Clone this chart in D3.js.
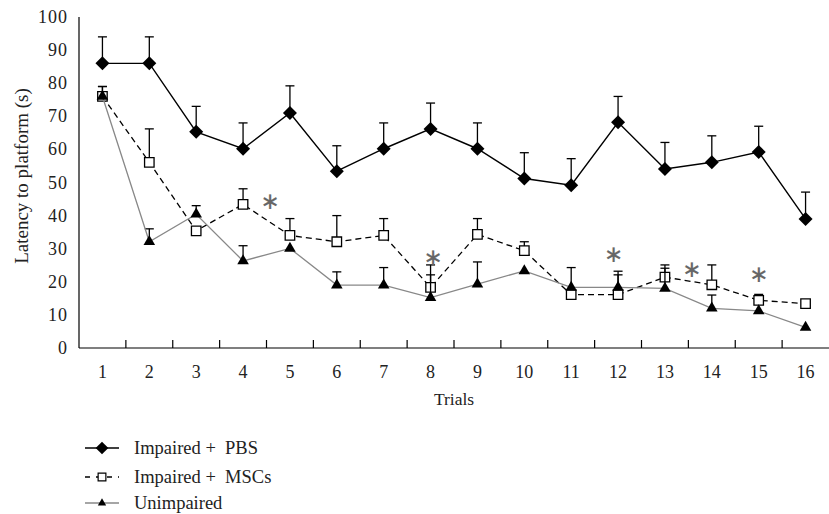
<!DOCTYPE html>
<html>
<head>
<meta charset="utf-8">
<script src="https://cdn.jsdelivr.net/npm/d3@7"></script>
<style>
  html, body { margin: 0; padding: 0; background: #fff; }
  text { font-family: "Liberation Serif", "DejaVu Serif", serif; fill: #222; white-space: pre; }
</style>
</head>
<body>
<div id="chart"></div>
<script>
// data
const trials = d3.range(1, 17);
const yTicks = [0, 10, 20, 30, 40, 50, 60, 70, 80, 90, 100];

const pbs    = [86, 86, 65.3, 60.2, 71, 53.4, 60.2, 66.2, 60.2, 51.2, 49.2, 68.2, 54.1, 56.1, 59.2, 39];
const pbsErr = [94, 94, 73, 68, 79.2, 61.1, 68, 74, 68, 59, 57.2, 76, 62.1, 64.1, 67, 47.1];

const msc    = [76, 56.1, 35.4, 43.4, 34, 32.1, 34, 18.3, 34.3, 29.4, 16.1, 16.1, 21.4, 19.1, 14.4, 13.4];
const mscErr = [79, 66.2, null, 48.1, 39.1, 40, 39.1, 25.1, 39.1, 32.1, null, 23.2, 25.1, 25.1, 16.2, null];

const unimp    = [76, 32.1, 40.4, 26.3, 30.1, 19, 19, 15.2, 19.3, 23.3, 18.3, 18.3, 18, 12, 11.2, 6.2];
const unimpErr = [79, 36, 43, 30.9, null, 23, 24.3, 22.1, 26, null, 24.3, 22.1, 24.1, 16, null, null];

// significance marks: [trial position, value]
const stars = [[4.57, 44.2], [8.05, 27.2], [11.9, 28.1], [13.57, 23.6], [15.0, 22.1]];

const width = 829, height = 514;
const mLeft = 79, mRight = 829, mTop = 17, mBottom = 348;

const svg = d3.select("#chart")
    .append("svg")
    .attr("width", width)
    .attr("height", height);

const x = d3.scaleBand().domain(trials).range([mLeft, mRight]);
const xPos = d3.scaleLinear().domain([0.5, 16.5]).range([mLeft, mRight]);
const y = d3.scaleLinear().domain([0, 100]).range([mBottom, mTop]);

// axes
svg.append("line")
    .attr("x1", mLeft).attr("x2", mLeft)
    .attr("y1", y(100)).attr("y2", y(0))
    .attr("stroke", "#000").attr("stroke-width", 1.2);
svg.append("line")
    .attr("x1", mLeft).attr("x2", mRight)
    .attr("y1", y(0)).attr("y2", y(0))
    .attr("stroke", "#000").attr("stroke-width", 1.2);

svg.selectAll(".xtick")
    .data(trials.slice(1))
    .enter()
    .append("line")
    .attr("x1", d => x(d)).attr("x2", d => x(d))
    .attr("y1", y(0)).attr("y2", y(0) - 8)
    .attr("stroke", "#000").attr("stroke-width", 1.2);

svg.selectAll(".xlab")
    .data(trials)
    .enter()
    .append("text")
    .attr("x", d => x(d) + x.bandwidth() / 2)
    .attr("y", 378)
    .attr("text-anchor", "middle")
    .attr("font-size", 18)
    .text(d => d);

svg.selectAll(".ylab")
    .data(yTicks)
    .enter()
    .append("text")
    .attr("x", 68)
    .attr("y", d => y(d) + 6)
    .attr("text-anchor", "end")
    .attr("font-size", 18)
    .attr("letter-spacing", 1)
    .text(d => d);

svg.append("text")
    .attr("x", xPos(8.5))
    .attr("y", 405)
    .attr("text-anchor", "middle")
    .attr("font-size", 17.5)
    .text("Trials");

svg.append("text")
    .attr("transform", "translate(28,176) rotate(-90)")
    .attr("text-anchor", "middle")
    .attr("font-size", 19)
    .text("Latency to platform (s)");

// error bars
function errorBars(vals, errs) {
    const g = svg.append("g");
    trials.forEach((t, i) => {
        if (errs[i] == null) return;
        const cx = xPos(t);
        g.append("line")
            .attr("x1", cx).attr("x2", cx)
            .attr("y1", y(vals[i])).attr("y2", y(errs[i]))
            .attr("stroke", "#000").attr("stroke-width", 1.3);
        g.append("line")
            .attr("x1", cx - 4.5).attr("x2", cx + 4.5)
            .attr("y1", y(errs[i])).attr("y2", y(errs[i]))
            .attr("stroke", "#000").attr("stroke-width", 1.3);
    });
}

const line = d3.line()
    .x((d, i) => xPos(trials[i]))
    .y(d => y(d));

const diamond = d3.symbol().type(d3.symbolSquare).size(98);
const square = d3.symbol().type(d3.symbolSquare).size(90);
const triangle = d3.symbol().type(d3.symbolTriangle).size(58);

// Impaired + PBS
errorBars(pbs, pbsErr);
svg.append("path")
    .datum(pbs)
    .attr("d", line)
    .attr("fill", "none")
    .attr("stroke", "#000")
    .attr("stroke-width", 1.4);
svg.selectAll(".pbs")
    .data(pbs)
    .enter()
    .append("path")
    .attr("d", diamond)
    .attr("transform", (d, i) => "translate(" + xPos(trials[i]) + "," + y(d) + ") rotate(45)")
    .attr("fill", "#000");

// Impaired + MSCs
errorBars(msc, mscErr);
svg.append("path")
    .datum(msc)
    .attr("d", line)
    .attr("fill", "none")
    .attr("stroke", "#000")
    .attr("stroke-width", 1.3)
    .attr("stroke-dasharray", "6,4");
svg.selectAll(".msc")
    .data(msc)
    .enter()
    .append("path")
    .attr("d", square)
    .attr("transform", (d, i) => "translate(" + xPos(trials[i]) + "," + y(d) + ")")
    .attr("fill", "#fff")
    .attr("stroke", "#000")
    .attr("stroke-width", 1.3);

// Unimpaired
errorBars(unimp, unimpErr);
svg.append("path")
    .datum(unimp)
    .attr("d", line)
    .attr("fill", "none")
    .attr("stroke", "#888")
    .attr("stroke-width", 1.3);
svg.selectAll(".unimp")
    .data(unimp)
    .enter()
    .append("path")
    .attr("d", triangle)
    .attr("transform", (d, i) => "translate(" + xPos(trials[i]) + "," + y(d) + ")")
    .attr("fill", "#000");

// asterisks
svg.selectAll(".star")
    .data(stars)
    .enter()
    .append("text")
    .attr("x", d => xPos(d[0]))
    .attr("y", d => y(d[1]))
    .attr("dy", "0.32em")
    .attr("text-anchor", "middle")
    .attr("font-size", 23)
    .style("font-family", "'DejaVu Sans', sans-serif")
    .style("fill", "#666")
    .style("stroke", "#666")
    .style("stroke-width", 0.2)
    .text("\u2217");

// legend
const legendItems = [
    { label: "Impaired +  PBS", y: 448, stroke: "#000", dash: null, sym: "diamond" },
    { label: "Impaired +  MSCs", y: 477, stroke: "#000", dash: "5,6", sym: "square" },
    { label: "Unimpaired", y: 503, stroke: "#888", dash: null, sym: "triangle" }
];
const lg = svg.append("g");
legendItems.forEach(item => {
    lg.append("line")
        .attr("x1", 85).attr("x2", 119)
        .attr("y1", item.y).attr("y2", item.y)
        .attr("stroke", item.stroke)
        .attr("stroke-width", 1.3)
        .attr("stroke-dasharray", item.dash);
    const s = lg.append("path");
    if (item.sym === "diamond") {
        s.attr("d", d3.symbol().type(d3.symbolSquare).size(80))
            .attr("transform", "translate(102," + item.y + ") rotate(45)").attr("fill", "#000");
    } else if (item.sym === "square") {
        s.attr("d", d3.symbol().type(d3.symbolSquare).size(60))
            .attr("transform", "translate(102," + item.y + ")")
            .attr("fill", "#fff").attr("stroke", "#000").attr("stroke-width", 1.2);
    } else {
        s.attr("d", d3.symbol().type(d3.symbolTriangle).size(30))
            .attr("transform", "translate(102," + item.y + ")").attr("fill", "#000");
    }
    lg.append("text")
        .attr("x", 134)
        .attr("y", item.y + 6)
        .attr("font-size", 18.5)
        .text(item.label);
});
</script>
</body>
</html>
